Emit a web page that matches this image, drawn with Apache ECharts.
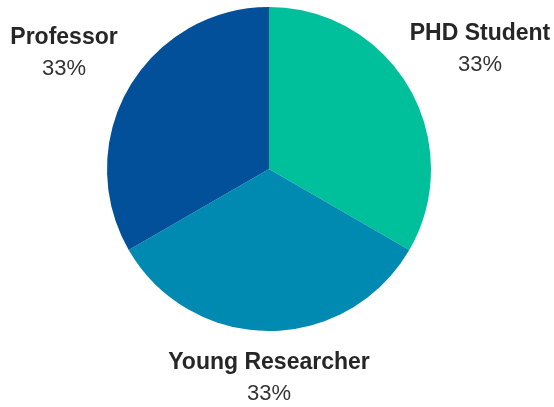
<!DOCTYPE html>
<html>
<head>
<meta charset="utf-8">
<script src="https://cdn.jsdelivr.net/npm/echarts@6/dist/echarts.min.js"></script>
<style>
  html, body { margin: 0; padding: 0; background: #fff; }
  #main { width: 554px; height: 407px; }
</style>
</head>
<body>
<div id="main"></div>
<script>
var categories = ['PHD Student', 'Young Researcher', 'Professor'];
var values = [1, 1, 1];
var colors = ['#00BF9B', '#0089B1', '#02509A'];

// label block centres, by slice
var labelPos = [[480, 49], [269, 378], [64, 53]];

var total = values.reduce(function (a, b) { return a + b; }, 0);
var pieData = [];
for (var i = 0; i < categories.length; i++) {
  pieData.push({ name: categories[i], value: values[i], itemStyle: { color: colors[i] } });
}

var chart = echarts.init(document.getElementById('main'), null, { renderer: 'canvas' });
var option = {
  animation: false,
  series: [{
    type: 'pie',
    center: [269, 169],
    radius: [0, 162],
    startAngle: 90,
    clockwise: true,
    data: pieData,
    itemStyle: { borderWidth: 0 },
    labelLine: { show: false },
    label: {
      show: true,
      position: 'outside',
      overflow: 'none',
      width: 300,
      formatter: function (p) {
        return '{b|' + p.name + '}\n{c|' + Math.round(p.value / total * 100) + '%}';
      },
      rich: {
        b: { fontFamily: 'Liberation Sans', fontWeight: 'bold', fontSize: 23, color: '#262626', lineHeight: 31 },
        c: { fontFamily: 'Liberation Sans', fontSize: 22, color: '#333333', lineHeight: 31 }
      }
    },
    labelLayout: function (params) {
      var pos = labelPos[params.dataIndex];
      return { x: pos[0], y: pos[1], align: 'center', verticalAlign: 'middle' };
    }
  }]
};
chart.setOption(option);
</script>
</body>
</html>
